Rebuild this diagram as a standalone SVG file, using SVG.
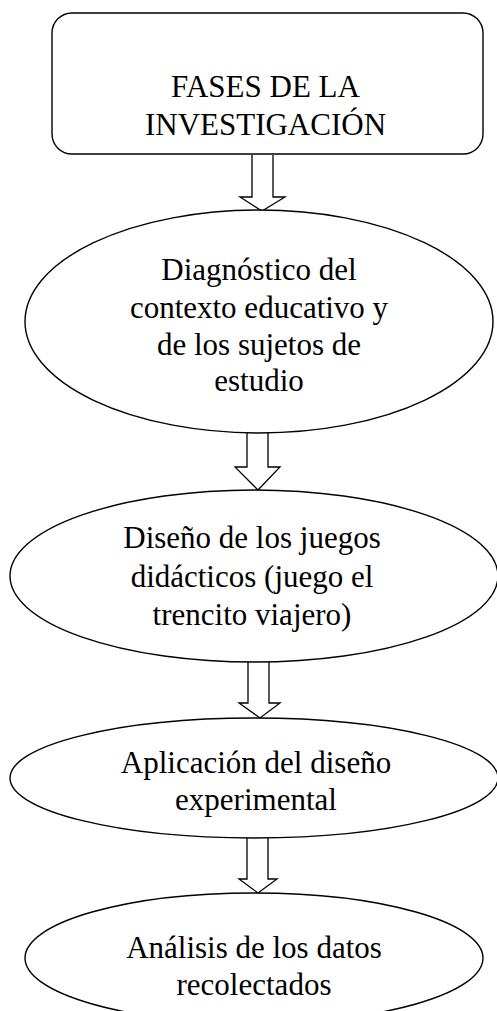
<svg xmlns="http://www.w3.org/2000/svg" width="497" height="1011" viewBox="0 0 497 1011">
<style>
.shape{fill:#fff;stroke:#000;stroke-width:1.4}
.arrow{fill:#fff;stroke:#000;stroke-width:1.3;stroke-linejoin:miter}
text{font-family:"Liberation Serif","Times New Roman",serif;font-size:31px;fill:#000;text-anchor:middle}
</style>
<rect width="497" height="1011" fill="#fff"/>
<g id="connectors">
<path class="arrow" d="M252,155 V197 H240 L262,211 L285,197 H273 V155"/>
<path class="arrow" d="M247,433 V467 H235 L258,490 L280,467 H268 V433"/>
<path class="arrow" d="M248,662 V703 H239 L260,718 L280,703 H269 V662"/>
<path class="arrow" d="M247,838 V879 H239 L258,893 L277,879 H268 V838"/>
</g>
<g id="node-fases">
<rect class="shape" x="52" y="13" width="431" height="141" rx="20" ry="20"/>
<text x="265.5" y="97">FASES DE LA</text>
<text x="265.5" y="135">INVESTIGACIÓN</text>
</g>
<g id="node-diagnostico">
<ellipse class="shape" cx="259" cy="321.5" rx="234" ry="111.5"/>
<text x="259" y="280">Diagnóstico del</text>
<text x="259" y="318">contexto educativo y</text>
<text x="259" y="355">de los sujetos de</text>
<text x="259" y="391">estudio</text>
</g>
<g id="node-diseno">
<ellipse class="shape" cx="254" cy="576" rx="244" ry="86"/>
<text x="252" y="548">Diseño de los juegos</text>
<text x="252" y="587">didácticos (juego el</text>
<text x="252" y="625">trencito viajero)</text>
</g>
<g id="node-aplicacion">
<ellipse class="shape" cx="254" cy="778" rx="244" ry="60"/>
<text x="256" y="773">Aplicación del diseño</text>
<text x="256" y="810">experimental</text>
</g>
<g id="node-analisis">
<ellipse class="shape" cx="254" cy="958" rx="229" ry="65"/>
<text x="254" y="958">Análisis de los datos</text>
<text x="254" y="995">recolectados</text>
</g>
</svg>
